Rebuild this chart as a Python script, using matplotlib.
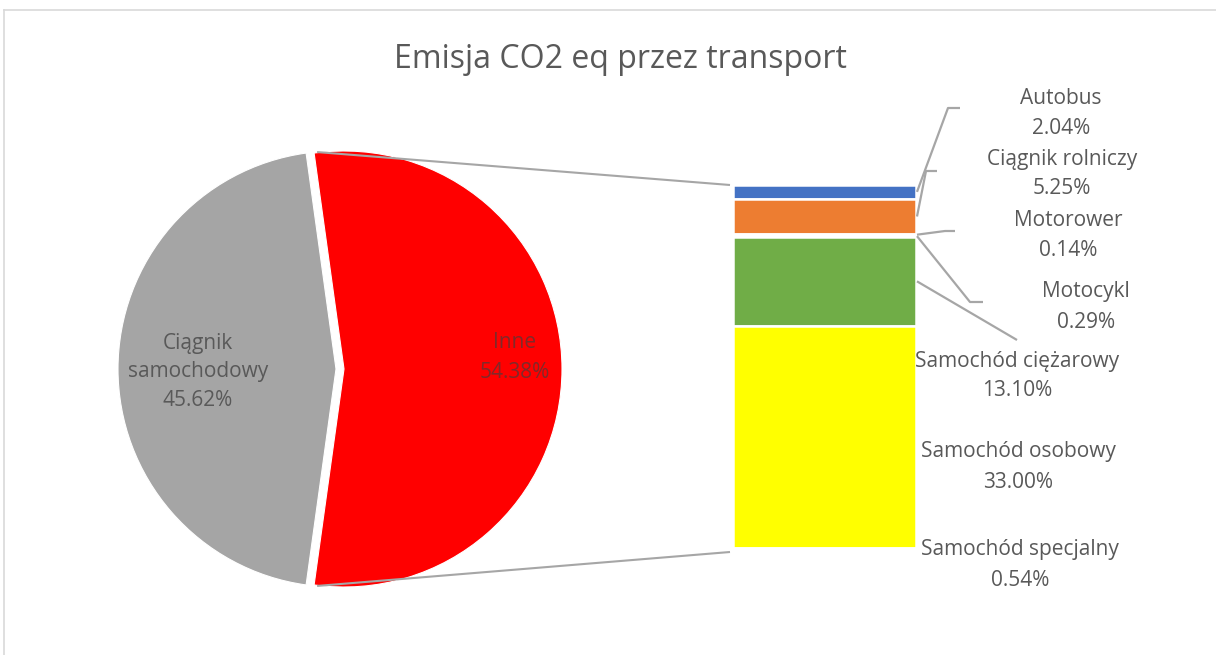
import matplotlib
matplotlib.use("Agg")
import matplotlib.pyplot as plt
import numpy as np

# ---------------- data ----------------
title = "Emisja CO2 eq przez transport"
pie_labels = ["Inne", "Ciągnik\nsamochodowy"]
pie_values = [54.38, 45.62]
pie_colors = ["#FF0000", "#A5A5A5"]

bar_labels = ["Autobus", "Ciągnik rolniczy", "Motorower", "Motocykl",
              "Samochód ciężarowy", "Samochód osobowy", "Samochód specjalny"]
bar_values = [2.04, 5.25, 0.14, 0.29, 13.10, 33.00, 0.54]
bar_colors = ["#4472C4", "#ED7D31", "#FFFFFF", "#FFFFFF",
              "#70AD47", "#FFFF00", "#FFFFFF"]

# ---------------- layout (pixels, top-left origin) ----------------
W, H = 1216, 655
TXT = "#595959"
LINE = "#A6A6A6"
FONT = ["Open Sans", "DejaVu Sans"]
plt.rcParams["font.family"] = FONT
FS = 15
DY = 2  # text vertical nudge (px)

# label placement: (center x, line1 y, line2 y)
bar_label_pos = [(1061, 97, 126), (1062, 158, 187), (1068, 218, 248),
                 (1086, 290, 320), (1017, 360, 389), (1018, 450, 480),
                 (1020, 548, 578)]
# leader-line elbows (None = no leader)
leader_pts = [[(948, 108), (960, 108)],
              [(926, 171), (937, 171)],
              [(945, 231), (955, 231)],
              [(970, 302), (983, 302)],
              [(1017, 340)],
              None, None]

fig = plt.figure(figsize=(W / 100, H / 100), dpi=100)
ax = fig.add_axes([0, 0, 1, 1])


def P(x, y):
    return x, H - y


def T(x, y, s, **kw):
    ax.text(x, H - y - DY, s, ha="center", va="center", **kw)


# ---------------- pie ----------------
start = 180 + pie_values[1] * 3.6 / 2
wedges, _ = ax.pie(pie_values, colors=pie_colors, startangle=start,
                   center=P(336, 369), radius=218, explode=[8, 0],
                   frame=True, wedgeprops=dict(edgecolor="white", linewidth=0.8))
ax.set_xlim(0, W)
ax.set_ylim(0, H)
ax.set_aspect("auto")
ax.axis("off")

# pie labels
T(198, 341, "Ciągnik", fontsize=FS, color=TXT)
T(198, 370, "samochodowy", fontsize=FS, color=TXT)
T(198, 398, f"{pie_values[1]:.2f}%", fontsize=FS, color=TXT)
T(515, 341, pie_labels[0], fontsize=FS, color="#7F2A2A")
T(515, 370, f"{pie_values[0]:.2f}%", fontsize=FS, color="#7F2A2A")

# ---------------- bar ----------------
bx0, bx1, by0, by1 = 733, 916, 185, 552
bax = fig.add_axes([bx0 / W, (H - by1) / H, (bx1 - bx0) / W, (by1 - by0) / H])
total = sum(bar_values)
cum = np.concatenate([[0], np.cumsum(bar_values)[:-1]])
bax.bar([0] * len(bar_values), bar_values, bottom=cum, width=1.0,
        color=bar_colors, edgecolor="white", linewidth=1.8)
bax.set_xlim(-0.5, 0.5)
bax.set_ylim(total, 0)
bax.axis("off")

fig.canvas.draw()

# connectors from exploded slice to bar
w = wedges[0]
cx, cy = w.center
r = w.r
t_top = np.deg2rad(w.theta2)
t_bot = np.deg2rad(w.theta1)
top_pt = (cx + r * np.cos(t_top), cy + r * np.sin(t_top))
bot_pt = (cx + r * np.cos(t_bot), cy + r * np.sin(t_bot))
bar_tl = bax.transData.transform((-0.5, 0))
bar_bl = bax.transData.transform((-0.5, total))
ax.plot([top_pt[0] + 3, bar_tl[0] - 3], [top_pt[1] + 1, bar_tl[1]], color=LINE, lw=1.5,
        solid_capstyle="butt")
ax.plot([bot_pt[0] + 3, bar_bl[0] - 3], [bot_pt[1] - 1, bar_bl[1]], color=LINE, lw=1.5,
        solid_capstyle="butt")

# bar labels and leaders
for i, (lab, val) in enumerate(zip(bar_labels, bar_values)):
    x, y1, y2 = bar_label_pos[i]
    T(x, y1, lab, fontsize=FS, color=TXT)
    T(x, y2, f"{val:.2f}%", fontsize=FS, color=TXT)
    if leader_pts[i] is not None:
        s = bax.transData.transform((0.5, cum[i] + val / 2))
        xs = [s[0] + 1] + [p[0] for p in leader_pts[i]]
        ys = [s[1]] + [H - p[1] for p in leader_pts[i]]
        ax.plot(xs, ys, color=LINE, lw=1.6, solid_capstyle="butt")

# title
T(620, 57, title, fontsize=23, color=TXT)

# chart border (top and left visible)
ax.plot([4, W], [H - 10, H - 10], color="#D9D9D9", lw=1.2)
ax.plot([4, 4], [H - 10, 0], color="#D9D9D9", lw=1.2)

fig.savefig("out.png", dpi=100)
